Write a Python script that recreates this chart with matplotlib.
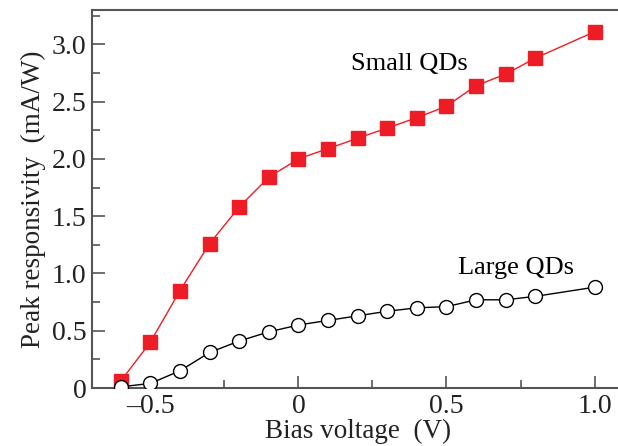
import matplotlib
matplotlib.use("Agg")
import matplotlib.pyplot as plt
from matplotlib.ticker import MultipleLocator, FuncFormatter

# Datos
bias = [-0.6, -0.5, -0.4, -0.3, -0.2, -0.1, 0.0, 0.1, 0.2, 0.3, 0.4, 0.5, 0.6, 0.7, 0.8, 1.0]
small_qds = [0.06, 0.40, 0.85, 1.26, 1.58, 1.84, 2.00, 2.09, 2.18, 2.27, 2.36, 2.46, 2.64, 2.74, 2.88, 3.11]
large_qds = [0.01, 0.04, 0.15, 0.31, 0.41, 0.49, 0.55, 0.59, 0.63, 0.67, 0.70, 0.71, 0.77, 0.77, 0.80, 0.88]

plt.rcParams['font.family'] = ['Liberation Serif', 'DejaVu Serif']

fig = plt.figure(figsize=(6.18, 4.46), dpi=100)
ax = fig.add_axes([92 / 618, 1 - 388 / 446, 1 - 92 / 618 + 0.01, 378 / 446])

red = '#ee1c25'
ax.plot(bias, small_qds, color=red, lw=1.0, marker='s', ms=10, mfc=red, mec=red, zorder=3)
ax.plot(bias, large_qds, color='black', lw=1.0, marker='o', ms=10, mfc='white', mec='black', mew=1.0, zorder=3)

ax.text(0.375, 2.83, 'Small QDs', fontsize=19, ha='center', va='center')
ax.text(0.735, 1.045, 'Large QDs', fontsize=19, ha='center', va='center')

ax.set_xlim(-0.697, 1.1)
ax.set_ylim(0, 3.30)

ax.xaxis.set_major_locator(MultipleLocator(0.5))
ax.xaxis.set_minor_locator(MultipleLocator(0.25))
ax.yaxis.set_major_locator(MultipleLocator(0.5))
ax.yaxis.set_minor_locator(MultipleLocator(0.25))


def fmt(v, pos):
    if abs(v) < 1e-9:
        return '0'
    s = '%.1f' % v
    return s.replace('-', '\u2013')


ax.xaxis.set_major_formatter(FuncFormatter(fmt))
ax.yaxis.set_major_formatter(FuncFormatter(fmt))

ax.tick_params(which='both', direction='in', colors='#555555', labelcolor='#222222',
               labelsize=20, width=1.2, top=False, right=False)
ax.tick_params(which='major', length=9, pad=4)
ax.tick_params(which='minor', length=6)

for side in ['left', 'bottom', 'top']:
    ax.spines[side].set_color('#555555')
    ax.spines[side].set_linewidth(1.5)
ax.spines['right'].set_visible(False)

ax.set_xlabel('Bias voltage  (V)', fontsize=19.5, color='#222222', labelpad=0)
ax.set_ylabel('Peak responsivity  (mA/W)', fontsize=19.5, color='#222222', labelpad=4)

fig.savefig('out.png', dpi=100)
